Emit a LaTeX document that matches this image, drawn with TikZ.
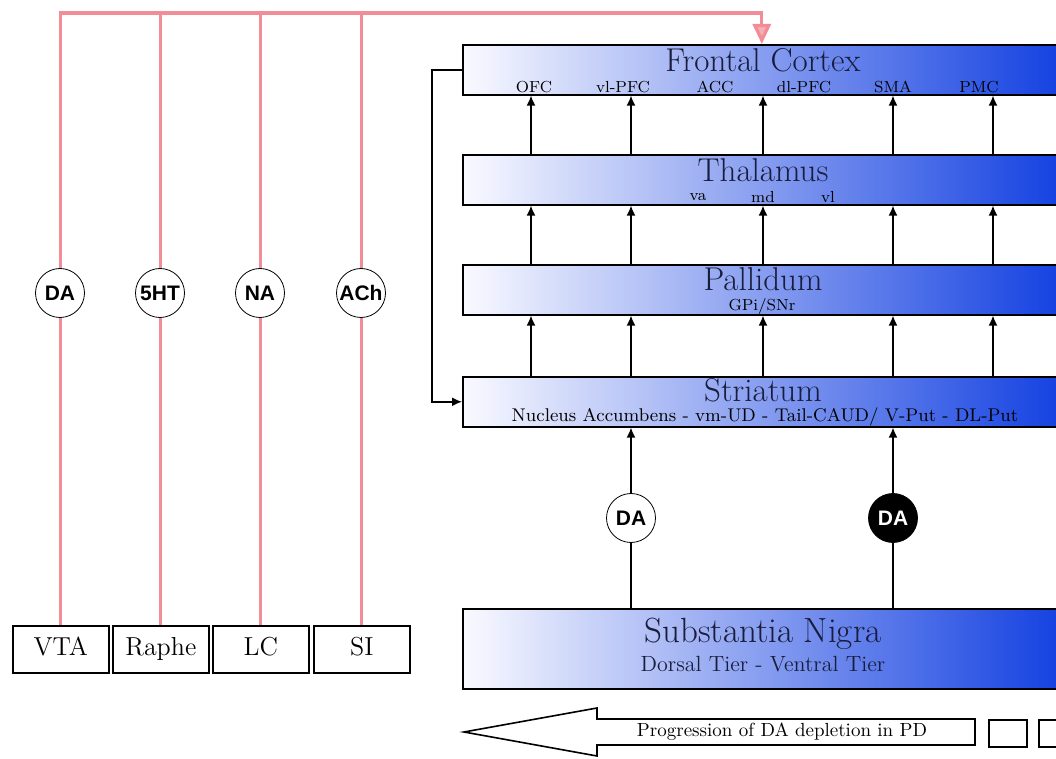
\documentclass[tikz,border=0pt]{standalone}
\usepackage{fontspec}
\newfontfamily\circfont{Liberation Sans}
\usetikzlibrary{arrows.meta, positioning, calc}

\definecolor{nigblue}{RGB}{20,65,225}
\definecolor{pinkln}{RGB}{242,140,150}
\definecolor{titlecol}{RGB}{25,28,60}

\begin{document}
\begin{tikzpicture}[x=0.5pt, y=-0.5pt,
    region/.style={rectangle, draw=black, thick, left color=blue!2, right color=nigblue, minimum width=299pt, minimum height=25pt, anchor=north west, inner sep=0pt},
    title/.style={font=\fontsize{16.5}{16.5}\selectfont, text=titlecol, inner sep=0pt},
    sublabel/.style={font=\fontsize{8}{8}\selectfont, inner sep=0pt},
    source/.style={rectangle, draw=black, thick, minimum width=48pt, minimum height=23.5pt, anchor=north west, font=\fontsize{13}{13}\selectfont, text height=9pt, text depth=3pt, inner sep=0pt},
    transmitter/.style={circle, draw=black, fill=white, minimum size=24.5pt, inner sep=0pt, font=\circfont\bfseries\fontsize{10.5}{10.5}\selectfont},
    arrow/.style={-{Latex[length=5pt, width=4.5pt]}, thick},
    pinkline/.style={draw=pinkln, line width=1.6pt}
]
\useasboundingbox (0,0) rectangle (1056,759);

% Regions
\node[region] (front) at (462,44) {};
\node[region] (thal) at (462,154) {};
\node[region] (pall) at (462,264) {};
\node[region] (stri) at (462,376) {};
\node[region, minimum height=40pt] (nigra) at (462,608) {};

% Region texts
\node[title] (frontT) at (763,60) {Frontal Cortex};
\node[title] (thalT) at (763,170) {Thalamus};
\node[title] (pallT) at (763,279) {Pallidum};
\node[title] (striT) at (763,390) {Striatum};
\node[title, font=\fontsize{17.5}{17.5}\selectfont] (nigraT) at (763,634) {Substantia Nigra};
\node[sublabel, font=\fontsize{11}{11}\selectfont, text=titlecol] (nigraS) at (763,664) {Dorsal Tier - Ventral Tier};

\foreach \x/\t in {534/OFC, 623/vl-PFC, 715/ACC, 804/dl-PFC, 893/SMA, 979/PMC}
  \node[sublabel] at (\x,87) {\t};
\foreach \x/\t in {698/va, 763/md, 828/vl}
  \node[sublabel] at (\x,197) {\t};
\node[sublabel] (pallS) at (762,307) {GPi/SNr};
\node[sublabel, font=\fontsize{9.2}{9.2}\selectfont] (striS) at (765,417) {Nucleus Accumbens - vm-UD - Tail-CAUD/ V-Put - DL-Put};

% Columns
\foreach \i/\x in {1/531, 2/631, 3/763, 4/893, 5/993}
  \coordinate (col\i) at (\x,0);

\foreach \i in {1,...,5} {
  \draw[arrow] (thal.north -| col\i) -- (front.south -| col\i);
  \draw[arrow] (pall.north -| col\i) -- (thal.south -| col\i);
  \draw[arrow] (stri.north -| col\i) -- (pall.south -| col\i);
}

% Feedback loop
\draw[arrow] (front.west) -- ++(-30,0) |- (stri.west);

% Nigral projections
\draw[arrow] (nigra.north -| col2) -- (stri.south -| col2);
\draw[arrow] (nigra.north -| col4) -- (stri.south -| col4);
\node[transmitter] (daV) at (631,518) {DA};
\node[transmitter, fill=black, text=white] (daD) at (893,518) {DA};

% Source nuclei
\node[source] (vta) at (12,625) {VTA};
\node[source] (raphe) at (112,625) {Raphe};
\node[source] (lc) at (212,625) {LC};
\node[source] (si) at (313,625) {SI};

\coordinate (topline) at (0,13);
\draw[pinkline, -{Triangle[length=10pt, width=9pt, fill=pinkln!70]}] (vta.north) |- (topline -| front.north) -- (front.north);
\foreach \s in {raphe, lc, si}
  \draw[pinkline] (\s.north) -- (\s.north |- topline);

\node[transmitter] (daS) at (60,293) {DA};
\node[transmitter] (htS) at (160,293) {5HT};
\node[transmitter] (naS) at (260,293) {NA};
\node[transmitter] (achS) at (361,293) {ACh};

% Progression arrow
\draw[thick] (464,732) -- (597,708) -- (597,719) -- (975,719) -- (975,745) -- (597,745) -- (597,756) -- cycle;
\node[sublabel, font=\fontsize{9.5}{9.5}\selectfont] (prog) at (782,732) {Progression of DA depletion in PD};
\node[rectangle, draw=black, thick, minimum width=19pt, minimum height=13.5pt, anchor=north west] (boxA) at (988,719) {};
\node[rectangle, draw=black, thick, minimum width=19pt, minimum height=13.5pt, anchor=north west] (boxB) at (1038,719) {};

\end{tikzpicture}
\end{document}
